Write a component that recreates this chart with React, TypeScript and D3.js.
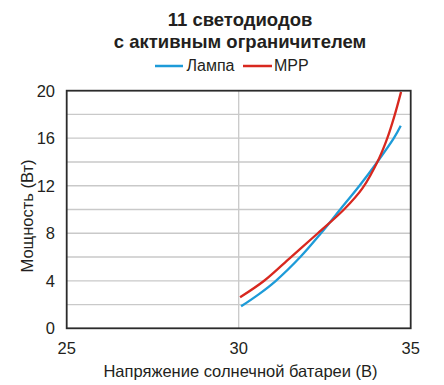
import React from "react";
import * as d3 from "d3";

const titleLines = ["11 светодиодов", "с активным ограничителем"];
const seriesNames = ["Лампа", "MPP"];
const seriesColors = ["#1d9bd8", "#d8281f"];
const lampV = [30.07, 30.6, 31.08, 31.79, 32.39, 32.95, 33.51, 34.03, 34.51, 34.71];
const lampP = [1.85, 2.9, 4.0, 6.0, 8.0, 10.0, 12.0, 14.0, 16.0, 17.05];
const mppV = [30.04, 30.74, 31.52, 32.3, 33.06, 33.6, 34.08, 34.32, 34.53, 34.72];
const mppP = [2.61, 4.0, 6.0, 8.0, 10.0, 11.8, 14.3, 16.0, 17.9, 19.9];
const xTicks = [25, 30, 35];
const yTicks = [0, 4, 8, 12, 16, 20];
const yGrid = [2, 4, 6, 8, 10, 12, 14, 16, 18];
const xLabel = "Напряжение солнечной батареи (В)";
const yLabel = "Мощность (Вт)";

const font = "'Liberation Sans', Arial, sans-serif";

export default function App() {
  const W = 444, H = 385;
  const x = d3.scaleLinear().domain([25, 35]).range([66.7, 410.7]);
  const y = d3.scaleLinear().domain([0, 20]).range([328.3, 90.7]);
  const line = d3.line<[number, number]>().x(d => x(d[0])).y(d => y(d[1])).curve(d3.curveCatmullRom.alpha(0.5));
  const lamp = lampV.map((v, i) => [v, lampP[i]] as [number, number]);
  const mpp = mppV.map((v, i) => [v, mppP[i]] as [number, number]);
  return (
    <svg width={W} height={H} style={{ position: "absolute", left: 0, top: 0 }} fontFamily={font}>
      <rect width={W} height={H} fill="#fff" />
      {titleLines.map((t, i) => (
        <text key={i} x={240} y={26 + i * 21.5} textAnchor="middle" fontSize={18.5} fontWeight="bold" fill="#231f20">{t}</text>
      ))}
      <g fontSize={16} fill="#231f20">
        <line x1={155} x2={183} y1={66} y2={66} stroke={seriesColors[0]} strokeWidth={2.5} />
        <text x={186.5} y={71}>{seriesNames[0]}</text>
        <line x1={243} x2={272} y1={66} y2={66} stroke={seriesColors[1]} strokeWidth={2.5} />
        <text x={274} y={71}>{seriesNames[1]}</text>
      </g>
      {yGrid.map(v => (
        <line key={v} x1={x(25)} x2={x(35)} y1={y(v)} y2={y(v)} stroke="#c9c9c9" strokeWidth={1.3} />
      ))}
      <line x1={x(30)} x2={x(30)} y1={y(0)} y2={y(20)} stroke="#c9c9c9" strokeWidth={1.3} />
      <path d={line(lamp) ?? ""} fill="none" stroke={seriesColors[0]} strokeWidth={2.3} />
      <path d={line(mpp) ?? ""} fill="none" stroke={seriesColors[1]} strokeWidth={2.3} />
      <rect x={x(25)} y={y(20)} width={x(35) - x(25)} height={y(0) - y(20)} fill="none" stroke="#2b2b2b" strokeWidth={1.8} />
      <g fontSize={16.5} fill="#231f20">
        {yTicks.map(v => (
          <text key={v} x={55} y={y(v) + 6} textAnchor="end">{v}</text>
        ))}
        {xTicks.map(v => (
          <text key={v} x={x(v)} y={353.5} textAnchor="middle">{v}</text>
        ))}
        <text x={240.5} y={377} textAnchor="middle">{xLabel}</text>
        <text transform={`translate(33,216) rotate(-90)`} textAnchor="middle">{yLabel}</text>
      </g>
    </svg>
  );
}
